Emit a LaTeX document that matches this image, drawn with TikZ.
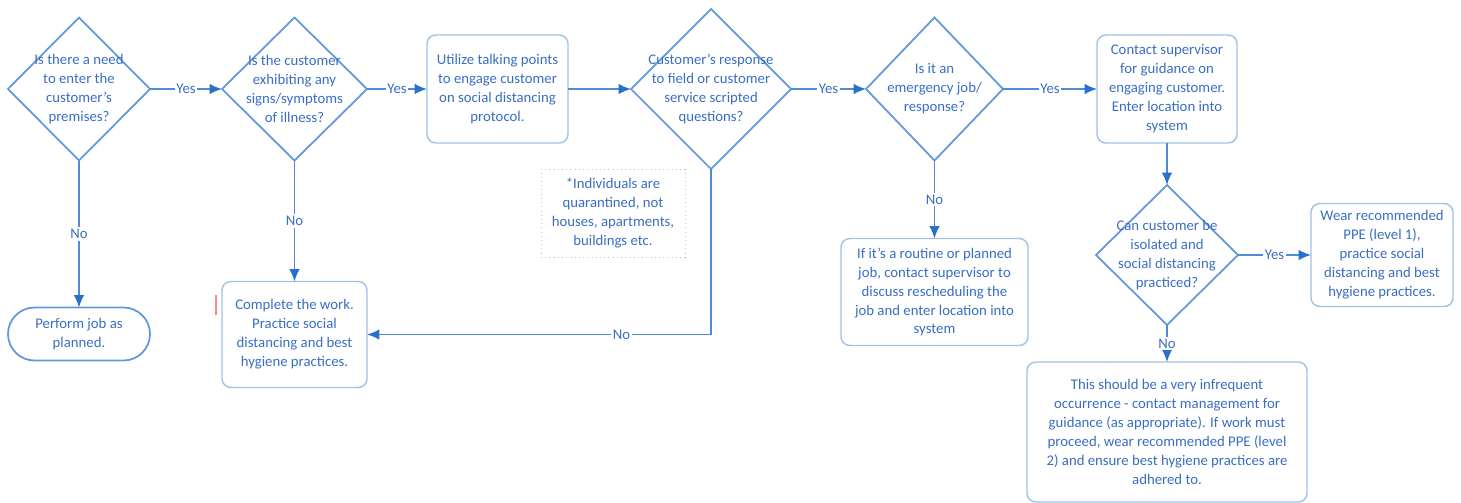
\documentclass[tikz,border=0pt]{standalone}
\usepackage{fontspec}
\setmainfont{Carlito}
\usepackage{xcolor}
\usetikzlibrary{arrows.meta,positioning,shapes.geometric}
\definecolor{flowline}{RGB}{78,141,214}
\definecolor{flowtip}{RGB}{40,112,205}
\definecolor{flowtext}{RGB}{58,110,195}
\definecolor{boxline}{RGB}{158,194,232}
\definecolor{decline}{RGB}{96,152,220}

\begin{document}
\begin{tikzpicture}[>={Latex[length=7pt,width=6pt,color=flowtip]}, node distance=1.4cm,
  font=\fontsize{8.4}{10.8}\selectfont, text=flowtext, every node/.style={outer sep=0pt},
  box/.style={draw=boxline, line width=0.8pt, rounded corners=5pt, align=center, fill=white, inner sep=1pt},
  dec/.style={draw=decline, line width=1pt, diamond, align=center, inner sep=-3mm, minimum width=2.84cm, minimum height=2.86cm},
  term/.style={draw=decline, line width=1pt, rounded corners=0.53cm, align=center, minimum width=2.84cm, minimum height=1.06cm},
  note/.style={draw=black!25, dotted, align=center, minimum width=2.88cm, minimum height=1.76cm},
  flow/.style={->, draw=flowline, line width=1pt},
  lbl/.style={fill=white, inner sep=1pt}]
  \useasboundingbox (0,0) rectangle (29.22,-10.04);
  % top row
  \node[dec] (need) at (1.58,-1.78) {Is there a need\\ to enter the\\ customer's\\ premises?};
  \node[dec, right=1.44cm of need, minimum width=2.9cm] (ill) {Is the customer\\ exhibiting any\\ signs/symptoms\\ of illness?};
  \node[box, right=1.2cm of ill, minimum width=2.82cm, minimum height=2.16cm] (talk) {Utilize talking points\\ to engage customer\\ on social distancing\\ protocol.};
  \node[dec, right=1.26cm of talk, minimum width=3.2cm, minimum height=3.2cm] (script) {Customer's response\\ to field or customer\\ service scripted\\ questions?};
  \node[dec, right=1.5cm of script, minimum width=2.74cm] (emerg) {Is it an\\ emergency job/\\ response?};
  \node[box, right=1.88cm of emerg, minimum width=2.8cm, minimum height=2.16cm] (super) {Contact supervisor\\ for guidance on\\ engaging customer.\\ Enter location into\\ system};
  % right branch
  \node[dec, below=0.84cm of super, minimum height=2.8cm] (isol) {Can customer be\\ isolated and\\ social distancing\\ practiced?};
  \node[box, right=1.46cm of isol, minimum width=2.84cm, minimum height=2.06cm] (wear) {Wear recommended\\ PPE (level 1),\\ practice social\\ distancing and best\\ hygiene practices.};
  \node[box, below=0.74cm of isol, minimum width=5.6cm, minimum height=2.8cm] (rare) {This should be a very infrequent\\ occurrence - contact management for\\ guidance (as appropriate). If work must\\ proceed, wear recommended PPE (level\\ 2) and ensure best hygiene practices are\\ adhered to.};
  \node[box, below=1.56cm of emerg, minimum width=3.74cm, minimum height=2.14cm] (routine) {If it's a routine or planned\\ job, contact supervisor to\\ discuss rescheduling the\\ job and enter location into\\ system};
  % left branches
  \node[term, below=2.94cm of need] (perform) {Perform job as\\ planned.};
  \node[box, below=2.42cm of ill, minimum width=2.9cm, minimum height=2.12cm] (complete) {Complete the work.\\ Practice social\\ distancing and best\\ hygiene practices.};
  \node[note, below left=0cm and 0.52cm of script.south] (quar) {*Individuals are\\ quarantined, not\\ houses, apartments,\\ buildings etc.};
  \draw[pink!70!red, line width=1pt] (4.32,-5.9) -- (4.32,-6.3);
  % connectors
  \draw[flow] (need) -- node[lbl]{Yes} (ill);
  \draw[flow] (ill) -- node[lbl]{Yes} (talk);
  \draw[flow] (talk) -- (script);
  \draw[flow] (script) -- node[lbl]{Yes} (emerg);
  \draw[flow] (emerg) -- node[lbl]{Yes} (super);
  \draw[flow] (super) -- (isol);
  \draw[flow] (isol) -- node[lbl]{Yes} (wear);
  \draw[flow] (isol) -- node[lbl]{No} (rare);
  \draw[flow] (emerg) -- node[lbl]{No} (routine);
  \draw[flow] (need) -- node[lbl]{No} (perform);
  \draw[flow] (ill) -- node[lbl]{No} (complete);
  \draw[flow] (script.south) |- node[lbl, pos=0.63]{No} (complete.east);
\end{tikzpicture}
\end{document}
